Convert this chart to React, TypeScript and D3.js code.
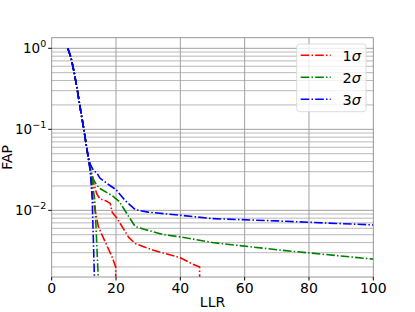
import * as d3 from 'd3';
import React from 'react';

// shared steep head of every curve
const headLlr = [5, 6, 7, 8, 9, 10, 11];
const headFap = [1.0, 0.77, 0.5, 0.3, 0.17, 0.1, 0.055];

// 1 sigma
const red1Llr = [12, 12.8, 14.5, 16.6, 18.7, 19.9, 20];
const red1Fap = [0.032, 0.014, 0.0063, 0.0041, 0.0027, 0.002, 0];
const red2Llr = [12, 13, 14, 15, 17, 18.2, 18.8, 20, 22, 24, 26, 29, 33, 40, 43.5, 46, 46];
const red2Fap = [0.032, 0.022, 0.016, 0.0138, 0.013, 0.0122, 0.0095, 0.0083, 0.0062, 0.0046, 0.0039, 0.0035, 0.0031, 0.0026, 0.0022, 0.002, 0];

// 2 sigma
const green1Llr = [12, 13.4, 14.5, 14.5];
const green1Fap = [0.032, 0.0135, 0.0014, 0];
const green2Llr = [12, 13, 14, 15, 19, 21, 24, 26, 29, 35, 40, 50, 72, 100];
const green2Fap = [0.033, 0.024, 0.0205, 0.0186, 0.015, 0.0129, 0.0083, 0.0063, 0.0058, 0.005, 0.0047, 0.004, 0.0032, 0.0025];

// 3 sigma
const blue1Llr = [12, 12.6, 13.3, 13.3];
const blue1Fap = [0.03, 0.0135, 0.0014, 0];
const blue2Llr = [12, 13, 14, 15, 18, 20, 23, 26, 30, 40, 50, 70, 100];
const blue2Fap = [0.037, 0.031, 0.029, 0.025, 0.0204, 0.018, 0.013, 0.0102, 0.0095, 0.0087, 0.0079, 0.0074, 0.0066];

const seriesNames = ['1', '2', '3'];
const seriesColors = ['#ff0000', '#008000', '#0000ff'];

const xTicks = [0, 20, 40, 60, 80, 100];
const yTicks = [1, 0.1, 0.01];
const yTickExp = ['0', '\u22121', '\u22122'];

const W = 415;
const H = 312;
const left = 51.7;
const right = 373.3;
const top = 37.7;
const bottom = 277;
const font = 'DejaVu Sans, sans-serif';

export default function App() {
  const x = d3.scaleLinear().domain([0, 100]).range([left, right]);
  const y = d3.scaleLog().domain([Math.pow(10, -2.823), Math.pow(10, 0.131)]).range([bottom, top]);

  const mk = (ls: number[], fs: number[]) => {
    const all = headLlr.concat(ls).map((l, i) => [l, headFap.concat(fs)[i]] as [number, number]);
    return d3.line<[number, number]>()
      .x(d => x(d[0]))
      .y(d => (d[1] > 0 ? y(d[1]) : y(1e-6)))(all) || '';
  };

  const curves = [
    { c: 0, d: mk(red1Llr, red1Fap) },
    { c: 0, d: mk(red2Llr, red2Fap) },
    { c: 1, d: mk(green1Llr, green1Fap) },
    { c: 1, d: mk(green2Llr, green2Fap) },
    { c: 2, d: mk(blue1Llr, blue1Fap) },
    { c: 2, d: mk(blue2Llr, blue2Fap) },
  ];

  const minor: number[] = [];
  for (let e = -3; e <= 0; e++) {
    for (let m = 2; m <= 9; m++) {
      const v = m * Math.pow(10, e);
      if (v > y.domain()[0] && v < y.domain()[1]) minor.push(v);
    }
  }

  const dash = '8.6,2.2,1.5,2.2';

  return (
    <svg width={W} height={H} style={{ position: 'absolute', left: 0, top: 0, background: '#fff' }}
      fontFamily={font}>
      <defs>
        <clipPath id="plot">
          <rect x={left} y={top} width={right - left} height={bottom - top} />
        </clipPath>
      </defs>
      <rect x={left} y={top} width={right - left} height={bottom - top} fill="#fff" />
      {minor.map(v => (
        <line key={'m' + v} x1={left} x2={right} y1={y(v)} y2={y(v)} stroke="#b0b0b0" strokeWidth={0.9} />
      ))}
      {yTicks.map(v => (
        <line key={'g' + v} x1={left} x2={right} y1={y(v)} y2={y(v)} stroke="#a0a0a0" strokeWidth={1} />
      ))}
      {xTicks.slice(1, -1).map(v => (
        <line key={'v' + v} x1={x(v)} x2={x(v)} y1={top} y2={bottom} stroke="#a0a0a0" strokeWidth={1} />
      ))}
      <g clipPath="url(#plot)">
        {curves.map((cv, i) => (
          <path key={i} d={cv.d} fill="none" stroke={seriesColors[cv.c]} strokeWidth={1.6}
            strokeDasharray={dash} strokeLinejoin="round" />
        ))}
      </g>
      <rect x={left} y={top} width={right - left} height={bottom - top} fill="none" stroke="#8c8c8c" strokeWidth={0.9} />
      {xTicks.map(v => (
        <g key={'xt' + v}>
          <line x1={x(v)} x2={x(v)} y1={bottom} y2={bottom + 3.5} stroke="#000" strokeWidth={1} />
          <text x={x(v)} y={292.7} fontSize={14} textAnchor="middle">{v}</text>
        </g>
      ))}
      {yTicks.map((v, i) => (
        <g key={'yt' + v}>
          <line x1={left - 3.5} x2={left} y1={y(v)} y2={y(v)} stroke="#000" strokeWidth={1} />
          <text x={left - 5.5} y={y(v) + 5} fontSize={13.5} textAnchor="end">
            10<tspan fontSize={9.5} dy={-6}>{yTickExp[i]}</tspan>
          </text>
        </g>
      ))}
      <text x={(left + right) / 2} y={306.5} fontSize={14} textAnchor="middle">LLR</text>
      <text transform={`translate(11.5,${(top + bottom) / 2}) rotate(-90)`} fontSize={14} textAnchor="middle">FAP</text>
      <rect x={296.7} y={44} width={69.3} height={67.7} rx={3} fill="#fff" fillOpacity={0.8} stroke="#d8d8d8" strokeWidth={0.9} />
      {seriesNames.map((s, i) => (
        <g key={'lg' + s}>
          <line x1={300.7} x2={330.7} y1={55.3 + i * 22} y2={55.3 + i * 22} stroke={seriesColors[i]} strokeWidth={1.6}
            strokeDasharray={dash} />
          <text x={342.5} y={60.5 + i * 22} fontSize={14.5}>
            {s}<tspan fontStyle="italic">σ</tspan>
          </text>
        </g>
      ))}
    </svg>
  );
}
